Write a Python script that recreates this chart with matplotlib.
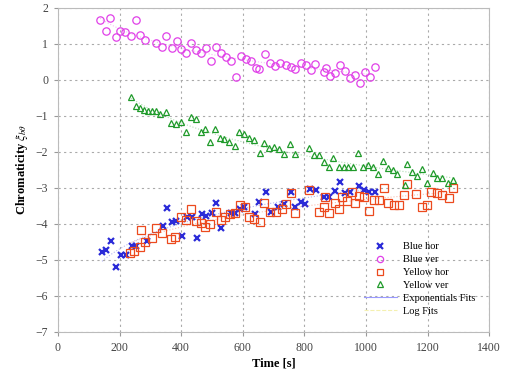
import numpy as np
import matplotlib.pyplot as plt

# Blue hor (x markers)
bh_t = [143, 157, 173, 190, 206, 222, 239, 255, 288, 340, 353, 369, 382, 402, 418, 435, 451,
        467, 480, 500, 513, 529, 562, 575, 591, 605, 641, 654, 676, 693, 715, 735, 755, 771,
        788, 801, 817, 837, 863, 879, 899, 915, 931, 948, 977, 993, 1010, 1029]
bh_c = [-4.78, -4.72, -4.47, -5.19, -4.86, -4.86, -4.61, -4.61, -4.47, -4.06, -3.56, -3.94,
        -3.92, -4.33, -3.81, -3.81, -4.39, -3.72, -3.78, -3.69, -3.42, -4.11, -3.69, -3.69,
        -3.58, -3.53, -3.72, -3.39, -3.11, -3.67, -3.53, -3.44, -3.11, -3.53, -3.39, -3.44,
        -3.03, -3.06, -3.25, -3.25, -3.08, -2.83, -3.14, -3.11, -2.94, -3.06, -3.11, -3.11]

# Blue ver (circles)
bv_t = [137, 170, 157, 189, 203, 219, 252, 238, 268, 284, 317, 337, 352, 369, 385, 399, 415,
        431, 448, 464, 480, 497, 513, 529, 546, 562, 578, 595, 611, 627, 644, 654, 673, 690,
        706, 722, 739, 755, 770, 788, 804, 820, 834, 863, 869, 883, 899, 915, 931, 948, 964,
        980, 997, 1013, 1029]
bv_c = [1.67, 1.72, 1.36, 1.19, 1.36, 1.33, 1.67, 1.22, 1.25, 1.11, 1.03, 0.92, 1.22, 0.89,
        1.08, 0.86, 0.75, 1.03, 0.83, 0.75, 0.89, 0.53, 0.92, 0.75, 0.64, 0.53, 0.08, 0.67,
        0.58, 0.53, 0.33, 0.30, 0.72, 0.47, 0.39, 0.47, 0.42, 0.36, 0.30, 0.47, 0.42, 0.28,
        0.44, 0.22, 0.33, 0.11, 0.19, 0.42, 0.25, 0.05, 0.14, -0.08, 0.22, 0.08, 0.36]

# Yellow hor (squares)
yh_t = [235, 248, 265, 271, 284, 304, 317, 337, 366, 379, 399, 415, 431, 448, 464, 477, 493,
        513, 529, 542, 559, 575, 591, 608, 621, 637, 657, 670, 690, 709, 726, 742, 755, 771,
        814, 846, 863, 866, 879, 899, 912, 922, 938, 954, 964, 977, 993, 1010, 1026, 1042,
        1059, 1072, 1091, 1108, 1124, 1134, 1163, 1183, 1199, 1212, 1232, 1248, 1268, 1281]
yh_c = [-4.81, -4.75, -4.64, -4.17, -4.50, -4.39, -4.11, -4.25, -4.42, -4.36, -3.81, -3.89,
        -3.58, -3.92, -3.97, -4.08, -4.00, -3.67, -3.89, -3.81, -3.72, -3.69, -3.47, -3.53,
        -3.81, -3.86, -3.94, -3.42, -3.67, -3.67, -3.58, -3.44, -3.14, -3.69, -3.06, -3.67,
        -3.53, -3.25, -3.69, -3.42, -3.58, -3.25, -3.36, -3.11, -3.42, -3.22, -3.25, -3.64,
        -3.33, -3.33, -3.00, -3.42, -3.47, -3.47, -3.19, -2.89, -3.17, -3.53, -3.47, -3.11,
        -3.14, -3.19, -3.28, -3.00]

# Yellow ver (triangles)
yv_t = [238, 252, 266, 279, 294, 307, 320, 333, 350, 366, 382, 399, 415, 431, 448, 464, 477,
        493, 510, 526, 539, 556, 575, 588, 605, 621, 637, 657, 670, 686, 703, 719, 735, 752,
        768, 814, 830, 846, 863, 879, 892, 912, 928, 941, 958, 974, 990, 1007, 1023, 1039,
        1056, 1072, 1088, 1101, 1127, 1134, 1150, 1167, 1183, 1199, 1216, 1232, 1248, 1265,
        1281]
yv_c = [-0.47, -0.72, -0.78, -0.83, -0.86, -0.86, -0.86, -0.94, -0.89, -1.19, -1.22, -1.17,
        -1.44, -1.03, -1.08, -1.44, -1.36, -1.72, -1.36, -1.61, -1.64, -1.72, -1.83, -1.44,
        -1.50, -1.61, -1.67, -2.03, -1.75, -1.89, -1.86, -1.92, -2.06, -1.78, -2.06, -1.89,
        -2.08, -2.08, -2.28, -2.42, -2.17, -2.42, -2.42, -2.42, -2.42, -2.03, -2.42, -2.36,
        -2.42, -2.61, -2.25, -2.44, -2.50, -2.61, -2.92, -2.33, -2.56, -2.67, -2.47, -2.86,
        -2.58, -2.72, -2.72, -2.86, -2.78]

c_blue = '#2b2bd8'
c_mag = '#e040e8'
c_red = '#ec4a1e'
c_green = '#1f9a2a'

plt.rcParams['font.family'] = 'Liberation Serif'
plt.rcParams['mathtext.fontset'] = 'stix'

fig = plt.figure(figsize=(5.08, 3.75), dpi=100)
ax = fig.add_axes([0.114, 0.115, 0.849, 0.864])

ax.plot(bh_t, bh_c, 'x', color=c_blue, ms=4.5, mew=1.6, label='Blue hor')
ax.plot(bv_t, bv_c, 'o', mfc='none', mec=c_mag, ms=5.3, mew=0.9, label='Blue ver')
ax.plot(yh_t, yh_c, 's', mfc='none', mec=c_red, ms=5.2, mew=0.9, label='Yellow hor')
ax.plot(yv_t, yv_c, '^', mfc='none', mec=c_green, ms=5, mew=0.9, label='Yellow ver')

# faint log fits through each series
for t, c, col in [(bh_t, bh_c, c_blue), (bv_t, bv_c, c_mag),
                  (yh_t, yh_c, c_red), (yv_t, yv_c, c_green)]:
    t = np.array(t, dtype=float)
    p = np.polyfit(np.log(t), c, 1)
    tt = np.linspace(t.min(), t.max(), 100)
    ax.plot(tt, np.polyval(p, np.log(tt)), ':', color=col, lw=0.8, alpha=0.35)

ax.plot([], [], '-', color='#9a9aff', lw=0.8, label='Exponentials Fits')
ax.plot([], [], '--', color='#f4f0b0', lw=0.8, label='Log Fits')

ax.set_xlim(0, 1400)
ax.set_ylim(-7, 2)
ax.set_xticks(np.arange(0, 1401, 200))
ax.set_yticks(np.arange(-7, 3, 1))
ax.grid(True, linestyle=(0, (2, 3)), color='#aaaaaa', lw=0.8)
for s in ax.spines.values():
    s.set_color('#bbbbbb')
ax.tick_params(colors='#444444', labelsize=8.5, length=3, color='#999999', pad=4)

ax.set_xlabel('Time [s]', fontsize=9, fontweight='bold', labelpad=3)
ax.set_ylabel(r'Chromaticity $\xi_{b\theta}$', fontsize=9, fontweight='bold', labelpad=4)

ax.legend(loc='lower right', bbox_to_anchor=(0.99, 0.02), frameon=False, fontsize=7.5,
          handlelength=3.2, labelspacing=0.35, handletextpad=0.6, markerscale=0.85)

fig.savefig('out.png', dpi=100)
